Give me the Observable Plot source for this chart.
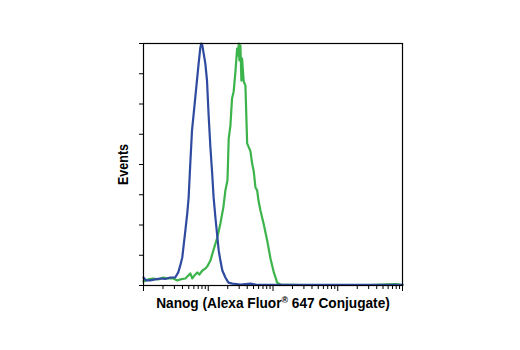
<!DOCTYPE html>
<html>
<head>
<meta charset="utf-8">
<script src="https://cdn.jsdelivr.net/npm/d3@7"></script>
<script src="https://cdn.jsdelivr.net/npm/@observablehq/plot@0.6"></script>
<style>
  html, body { margin: 0; padding: 0; background: #fff; }
  #chart svg { display: block; }
</style>
</head>
<body>
<div id="chart"></div>
<script>
// Isotype control (blue) — fluorescence intensity vs. relative events (% of max)
const blueX = [1, 1.10, 1.27, 1.52, 1.82, 2.17, 2.59, 3.09, 3.44, 3.70, 3.97, 4.43, 4.74, 4.98, 5.28, 5.61, 6.31, 7.10, 7.55, 7.82, 8.11, 8.49, 9.02, 9.57, 10.1, 10.8, 11.5, 12.1, 12.9, 14.0, 14.5, 15.4, 16.5, 18.4, 20.5, 23.6, 31.4, 44.9, 53.7, 91.6, 316, 1000, 3162, 10000];
const blueY = [3.3, 2.1, 2.1, 2.5, 2.9, 2.7, 3.3, 3.3, 5.4, 8.3, 11.6, 22.7, 29.8, 36.4, 50.4, 64.0, 77.7, 91.7, 98.3, 100, 99.2, 95.9, 91.7, 84.7, 71.1, 57.0, 46.3, 36.4, 28.1, 18.6, 14.5, 10.3, 6.2, 3.3, 1.2, 0.8, 0.4, 0.8, 0.4, 0.3, 0.3, 0.3, 0.3, 0.3];

// Nanog (green)
const greenX = [1, 1.18, 1.41, 1.69, 2.02, 2.41, 2.88, 3.33, 3.70, 4.43, 4.92, 5.28, 5.68, 6.10, 6.78, 7.28, 8.11, 9.02, 9.68, 10.8, 12.0, 13.8, 15.4, 17.1, 18.4, 19.8, 20.7, 22.0, 23.3, 24.7, 26.3, 27.9, 28.7, 29.6, 30.3, 31.4, 32.5, 33.3, 35.3, 37.5, 39.9, 44.9, 47.6, 50.5, 53.6, 56.9, 59.7, 64.0, 72.1, 81.3, 91.4, 103, 116, 131, 269, 1000, 3162, 7852, 10000];
const greenY = [1.7, 2.5, 2.9, 2.5, 3.3, 2.9, 2.9, 2.1, 2.5, 2.9, 4.1, 5.0, 2.9, 4.1, 5.4, 4.5, 6.2, 7.0, 7.9, 10.3, 14.5, 19.8, 25.6, 32.2, 39.3, 43.4, 60.7, 66.1, 77.3, 80.2, 88.4, 97.9, 95.0, 100, 93.0, 99.2, 84.7, 93.8, 84.3, 82.6, 58.7, 55.4, 50.4, 47.1, 40.5, 39.3, 35.1, 31.0, 25.2, 18.6, 11.2, 5.4, 1.2, 0.4, 0.2, 0.2, 0.2, 0.6, 0.2];

const majorTicks = [1, 10, 100, 1000, 10000];
const minorTicks = [2, 3, 4, 5, 6, 7, 8, 9, 20, 30, 40, 50, 60, 70, 80, 90, 200, 300, 400, 500, 600, 700, 800, 900, 2000, 3000, 4000, 5000, 6000, 7000, 8000, 9000];
const yTicks = [0, 12.5, 25, 37.5, 50, 62.5, 75, 87.5, 100];

const xLabelParts = ["Nanog (Alexa Fluor", "®", " 647 Conjugate)"];
const xLabel = xLabelParts.join("");
const yLabel = "Events";

const blue = blueX.map((x, i) => ({x, y: blueY[i]}));
const green = greenX.map((x, i) => ({x, y: greenY[i]}));

const font = "'Liberation Sans', Arial, sans-serif";

const chart = Plot.plot({
  width: 520,
  height: 350,
  marginLeft: 143,
  marginRight: 118,
  marginTop: 43,
  marginBottom: 65,
  style: {fontFamily: font, background: "#fff"},
  x: {type: "log", domain: [1, 10000], label: null, axis: null},
  y: {domain: [0, 100], label: null, axis: null},
  marks: [
    Plot.line(green, {x: "x", y: "y", stroke: "#3cb44b", strokeWidth: 2.2, curve: "linear"}),
    Plot.line(blue, {x: "x", y: "y", stroke: "#2f4ba0", strokeWidth: 2.2, curve: "linear"}),
    Plot.frame({stroke: "#000", strokeWidth: 1.2}),
    Plot.axisX(majorTicks, {tickSize: 6, tickFormat: () => "", label: null, stroke: "#000"}),
    Plot.axisX(minorTicks, {tickSize: 4, tickFormat: () => "", label: null, stroke: "#000"}),
    Plot.axisY(yTicks, {tickSize: 4, tickFormat: () => "", label: null, stroke: "#000"}),
    Plot.text([xLabel], {frameAnchor: "bottom", dy: 18, text: d => d, fontSize: 14, fontWeight: "bold", fill: "#000", lineAnchor: "middle", textAnchor: "middle", className: "xlab"}),
    Plot.text([yLabel], {frameAnchor: "left", dx: -20, rotate: -90, text: d => d, fontSize: 14, fontWeight: "bold", fill: "#000", lineAnchor: "middle", textAnchor: "middle", className: "ylab"})
  ]
});

document.getElementById("chart").appendChild(chart);

// Condense the labels to match the narrow bold face of the original, and superscript the ®
function condense(el, target) {
  const len = el.getComputedTextLength();
  if (!len) return;
  const s = target / len;
  const t = el.getAttribute("transform") || "";
  el.setAttribute("transform", (t + ` scale(${s.toFixed(3)},1)`).trim());
}
const xt = chart.querySelector(".xlab text");
if (xt) {
  xt.textContent = "";
  const ns = "http://www.w3.org/2000/svg";
  const a = document.createElementNS(ns, "tspan"); a.textContent = xLabelParts[0];
  const b = document.createElementNS(ns, "tspan"); b.textContent = xLabelParts[1];
  b.setAttribute("font-size", "9"); b.setAttribute("dy", "-5");
  const c = document.createElementNS(ns, "tspan"); c.textContent = xLabelParts[2];
  c.setAttribute("dy", "5");
  xt.append(a, b, c);
  condense(xt, 234);
}
const yt = chart.querySelector(".ylab text");
if (yt) condense(yt, 41);
</script>
</body>
</html>
